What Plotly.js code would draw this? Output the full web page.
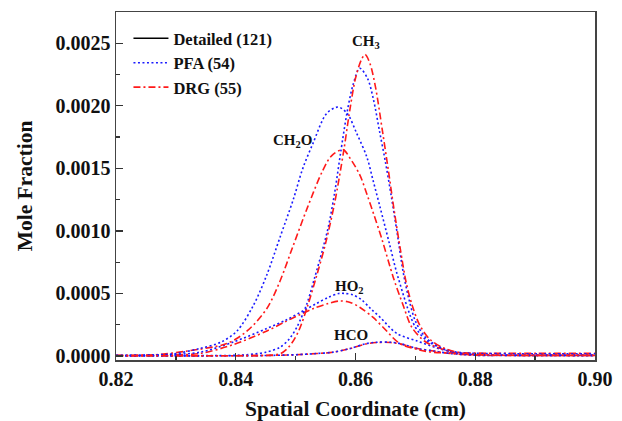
<!DOCTYPE html>
<html>
<head>
<meta charset="utf-8">
<script src="https://cdn.plot.ly/plotly-3.0.1.min.js"></script>
<style>html,body{margin:0;padding:0;background:#fff;}#chart{width:622px;height:421px;}</style>
</head>
<body>
<div id="chart"></div>
<script>
// ---- data ----
const seriesNames = ["Detailed (121)", "PFA (54)", "DRG (55)"];

const x_CH3_PFA = [0.82, 0.835, 0.841, 0.845, 0.8474, 0.849, 0.8502, 0.8519, 0.8532, 0.8545, 0.8555, 0.8565, 0.8575, 0.8586, 0.8596, 0.8607, 0.862, 0.863, 0.864, 0.865, 0.866, 0.867, 0.868, 0.869, 0.870, 0.8715, 0.873, 0.875, 0.878, 0.882, 0.89, 0.90];
const y_CH3_PFA = [0.000002, 0.000003, 0.000008, 0.00003, 0.00007, 0.00014, 0.00023, 0.00042, 0.00063, 0.00085, 0.00104, 0.00130, 0.00162, 0.00195, 0.00217, 0.00230, 0.00222, 0.00205, 0.00180, 0.00155, 0.00127, 0.00097, 0.00066, 0.00044, 0.00028, 0.00016, 0.00010, 0.00005, 0.00002, 0.000008, 0.000006, 0.000005];

const x_CH3_DRG = [0.82, 0.835, 0.842, 0.8452, 0.8475, 0.849, 0.8505, 0.852, 0.8535, 0.855, 0.8565, 0.858, 0.859, 0.860, 0.861, 0.8616, 0.8624, 0.8633, 0.8645, 0.8655, 0.8665, 0.8675, 0.8685, 0.8695, 0.8708, 0.8725, 0.8749, 0.8783, 0.882, 0.89, 0.90];
const y_CH3_DRG = [0.000002, 0.000002, 0.000003, 0.000005, 0.00002, 0.00008, 0.00020, 0.00040, 0.00064, 0.00090, 0.00122, 0.00163, 0.00195, 0.00222, 0.00237, 0.00241, 0.00234, 0.00216, 0.00180, 0.00148, 0.00115, 0.00085, 0.00058, 0.00040, 0.00024, 0.00013, 0.00006, 0.00002, 0.000008, 0.000005, 0.000005];

const x_CH2O_PFA = [0.82, 0.826, 0.830, 0.834, 0.8375, 0.8402, 0.8429, 0.8452, 0.8474, 0.8496, 0.8512, 0.8529, 0.8552, 0.8571, 0.8586, 0.8602, 0.8619, 0.8629, 0.8641, 0.8656, 0.8671, 0.870, 0.872, 0.8741, 0.8775, 0.882, 0.89, 0.90];
const y_CH2O_PFA = [0.000004, 0.000008, 0.00002, 0.00006, 0.00011, 0.00020, 0.00040, 0.00065, 0.00095, 0.00125, 0.00150, 0.00170, 0.00194, 0.00199, 0.00194, 0.00178, 0.00159, 0.00141, 0.00119, 0.00091, 0.00063, 0.00023, 0.00012, 0.00007, 0.00002, 0.000008, 0.000005, 0.000005];

const x_CH2O_DRG = [0.82, 0.826, 0.8319, 0.8385, 0.8419, 0.8452, 0.8474, 0.8495, 0.852, 0.8545, 0.856, 0.8579, 0.8591, 0.8607, 0.862, 0.863, 0.8645, 0.8663, 0.868, 0.8694, 0.8715, 0.8736, 0.8769, 0.882, 0.89, 0.90];
const y_CH2O_DRG = [0.000004, 0.000008, 0.00004, 0.00010, 0.00020, 0.00038, 0.00060, 0.00087, 0.00119, 0.00148, 0.00160, 0.00165, 0.00158, 0.00145, 0.00128, 0.00114, 0.00092, 0.00063, 0.00040, 0.00023, 0.00012, 0.00007, 0.00002, 0.000008, 0.000005, 0.000005];

const x_HO2_PFA = [0.82, 0.828, 0.834, 0.8395, 0.8452, 0.8485, 0.8512, 0.8535, 0.8555, 0.8572, 0.8582, 0.8595, 0.861, 0.8625, 0.8641, 0.8669, 0.8703, 0.8746, 0.878, 0.882, 0.89, 0.90];
const y_HO2_PFA = [0.000006, 0.00001, 0.00003, 0.00011, 0.00022, 0.00029, 0.00036, 0.00042, 0.00047, 0.00050, 0.00050, 0.00049, 0.00045, 0.00038, 0.00031, 0.00018, 0.00012, 0.00005, 0.000025, 0.00002, 0.000018, 0.000018];

const x_HO2_DRG = [0.82, 0.828, 0.834, 0.8395, 0.8452, 0.8485, 0.8507, 0.853, 0.8555, 0.8574, 0.859, 0.8607, 0.8629, 0.8646, 0.8674, 0.8705, 0.8729, 0.878, 0.882, 0.89, 0.90];
const y_HO2_DRG = [0.000005, 0.00001, 0.00002, 0.00009, 0.00020, 0.00028, 0.00033, 0.00038, 0.00042, 0.00044, 0.00043, 0.00039, 0.00031, 0.00023, 0.00010, 0.00005, 0.00003, 0.000025, 0.000022, 0.000022, 0.000022];

const x_HCO = [0.82, 0.84, 0.845, 0.850, 0.8536, 0.8562, 0.8591, 0.8619, 0.8636, 0.8658, 0.8674, 0.8703, 0.873, 0.8758, 0.88, 0.89, 0.90];
const y_HCO_PFA = [0.000001, 0.000002, 0.000004, 0.00001, 0.00002, 0.00003, 0.00006, 0.00010, 0.00011, 0.00011, 0.00010, 0.00006, 0.00004, 0.00002, 0.000006, 0.000005, 0.000005];
const y_HCO_DRG = [0.000001, 0.000002, 0.000004, 0.00001, 0.00002, 0.00003, 0.00006, 0.000098, 0.000108, 0.000108, 0.000098, 0.00006, 0.00004, 0.00002, 0.000006, 0.000005, 0.000005];

const speciesLabels = ["CH<sub>3</sub>", "CH<sub>2</sub>O", "HO<sub>2</sub>", "HCO"];
const labelX = [0.8617, 0.8495, 0.8590, 0.8593];
const labelY = [0.00251, 0.00172, 0.00055, 0.00017];

// ---- styles ----
const FONT = "Liberation Serif, Times New Roman, serif";
const BLUE = "#1a1aff", RED = "#ff1a1a";
const pfaLine = {color: BLUE, width: 1.6, dash: "2px,2.5px", shape: "spline", smoothing: 0.9};
const drgLine = {color: RED, width: 1.6, dash: "7px,3px,2px,3px", shape: "spline", smoothing: 0.9};

function tr(x, y, line, name, show) {
  return {x: x, y: y, type: "scatter", mode: "lines", line: line, name: name,
          showlegend: show, legendgroup: name, hoverinfo: "skip"};
}

const traces = [
  {x: [null], y: [null], type: "scatter", mode: "lines", name: seriesNames[0],
   line: {color: "#000", width: 1.3}, showlegend: true, legendgroup: "det"},
  tr(x_HCO, y_HCO_DRG, drgLine, seriesNames[2], false),
  tr(x_HCO, y_HCO_PFA, pfaLine, seriesNames[1], false),
  tr(x_HO2_DRG, y_HO2_DRG, drgLine, seriesNames[2], false),
  tr(x_HO2_PFA, y_HO2_PFA, pfaLine, seriesNames[1], false),
  tr(x_CH2O_DRG, y_CH2O_DRG, drgLine, seriesNames[2], false),
  tr(x_CH2O_PFA, y_CH2O_PFA, pfaLine, seriesNames[1], false),
  tr(x_CH3_PFA, y_CH3_PFA, pfaLine, seriesNames[1], true),
  tr(x_CH3_DRG, y_CH3_DRG, drgLine, seriesNames[2], true)
];

const annotations = speciesLabels.map((t, i) => ({
  x: labelX[i], y: labelY[i], xref: "x", yref: "y", text: t, showarrow: false,
  font: {family: FONT, size: 15, color: "#111", weight: "bold"}
}));

const axisCommon = {
  showline: true, mirror: true, linecolor: "#444", linewidth: 1.5,
  ticks: "inside", ticklen: 7, tickwidth: 1.3, tickcolor: "#333",
  showgrid: false, zeroline: false,
  tickfont: {family: FONT, size: 20, color: "#111", weight: "bold"}
};

const layout = {
  width: 622, height: 421,
  margin: {l: 116, r: 27, t: 12, b: 61, pad: 0},
  paper_bgcolor: "#fff", plot_bgcolor: "#fff",
  showlegend: true,
  legend: {x: 0.026, y: 0.974, xanchor: "left", yanchor: "top",
           bgcolor: "rgba(0,0,0,0)", borderwidth: 0, itemwidth: 35,
           tracegroupgap: 0,
           font: {family: FONT, size: 16.5, color: "#111", weight: "bold"}},
  xaxis: Object.assign({}, axisCommon, {
    range: [0.82, 0.90], dtick: 0.02, tick0: 0.82, tickformat: ".2f",
    minor: {dtick: 0.01, ticks: "inside", ticklen: 4, tickcolor: "#333", showgrid: false},
    title: {text: "Spatial Coordinate (cm)", standoff: 12,
            font: {family: FONT, size: 21.5, color: "#111", weight: "bold"}}
  }),
  yaxis: Object.assign({}, axisCommon, {
    range: [-0.000032, 0.00275], dtick: 0.0005, tick0: 0, tickformat: ".4f",
    minor: {dtick: 0.00025, ticks: "inside", ticklen: 4, tickcolor: "#333", showgrid: false},
    title: {text: "Mole Fraction", standoff: 17,
            font: {family: FONT, size: 21.5, color: "#111", weight: "bold"}}
  }),
  annotations: annotations
};

Plotly.newPlot("chart", traces, layout, {displayModeBar: false, staticPlot: true});
</script>
</body>
</html>
